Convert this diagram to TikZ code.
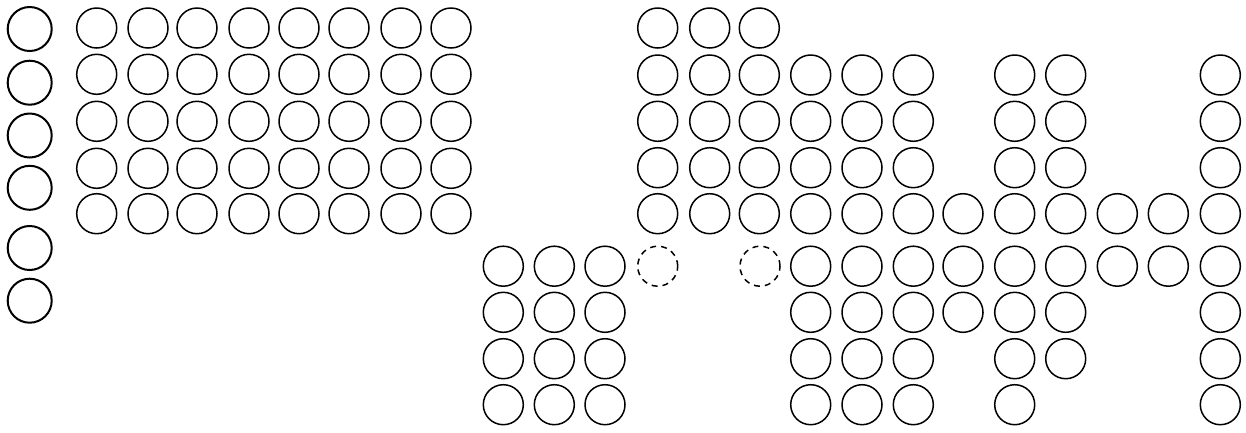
\documentclass[tikz,border=0pt]{standalone}
\begin{document}
\begin{tikzpicture}[x=1pt,y=-1pt,
  ball/.style={circle,draw=black,line width=1.5pt,minimum size=40pt,inner sep=0pt},
  bigball/.style={circle,draw=black,line width=2pt,minimum size=44pt,inner sep=0pt},
  ghost/.style={circle,draw=black,line width=1.5pt,dash pattern=on 6pt off 5pt,minimum size=40pt,inner sep=0pt}]
\useasboundingbox (0,0) rectangle (1246,432);
% left column
\foreach \y [count=\i] in {29,82.7,135.5,187.8,248,300.7}
  \node[bigball] (L\i) at (29.7,\y) {};
% block 1: 8 x 5
\foreach \y [count=\r] in {28,74.3,121.3,168.3,213.7}
  \foreach \x [count=\c] in {96.7,148,197,249,299,349,401,451}
    \node[ball] (A\r-\c) at (\x,\y) {};
% right part
\def\ra{28}\def\rb{75}\def\rc{121.3}\def\rd{167.7}\def\re{213.7}
\def\rf{266.2}\def\rg{312.3}\def\rh{358.7}\def\ri{404.7}
% row 1
\foreach \x [count=\c] in {657.7,709.7,759.3}
  \node[ball] (B1-\c) at (\x,\ra) {};
% rows 2-4
\foreach \y [count=\r] in {\rb,\rc,\rd}
  \foreach \x [count=\c] in {657.7,709.7,759.3,810.7,862,913.3,1014.7,1065.7,1220.3}
    \node[ball] (C\r-\c) at (\x,\y) {};
% row 5
\foreach \x [count=\c] in {657.7,709.7,759.3,810.7,862,913.3,963,1014.7,1065.7,1117.3,1168.3,1220.3}
  \node[ball] (D-\c) at (\x,\re) {};
% row 6
\foreach \x [count=\c] in {503.3,554.3,605,810.7,862,913.3,963,1014.7,1065.7,1117.3,1168.3,1220.3}
  \node[ball] (E-\c) at (\x,\rf) {};
\node[ghost] (G1) at (657.7,\rf) {};
\node[ghost] (G2) at (760,\rf) {};
% row 7
\foreach \x [count=\c] in {503.3,554.3,605,810.7,862,913.3,963,1014.7,1065.7,1220.3}
  \node[ball] (F-\c) at (\x,\rg) {};
% row 8
\foreach \x [count=\c] in {503.3,554.3,605,810.7,862,913.3,1014.7,1065.7,1220.3}
  \node[ball] (H-\c) at (\x,\rh) {};
% row 9
\foreach \x [count=\c] in {503.3,554.3,605,810.7,862,913.3,1014.7,1220.3}
  \node[ball] (I-\c) at (\x,\ri) {};
\end{tikzpicture}
\end{document}
